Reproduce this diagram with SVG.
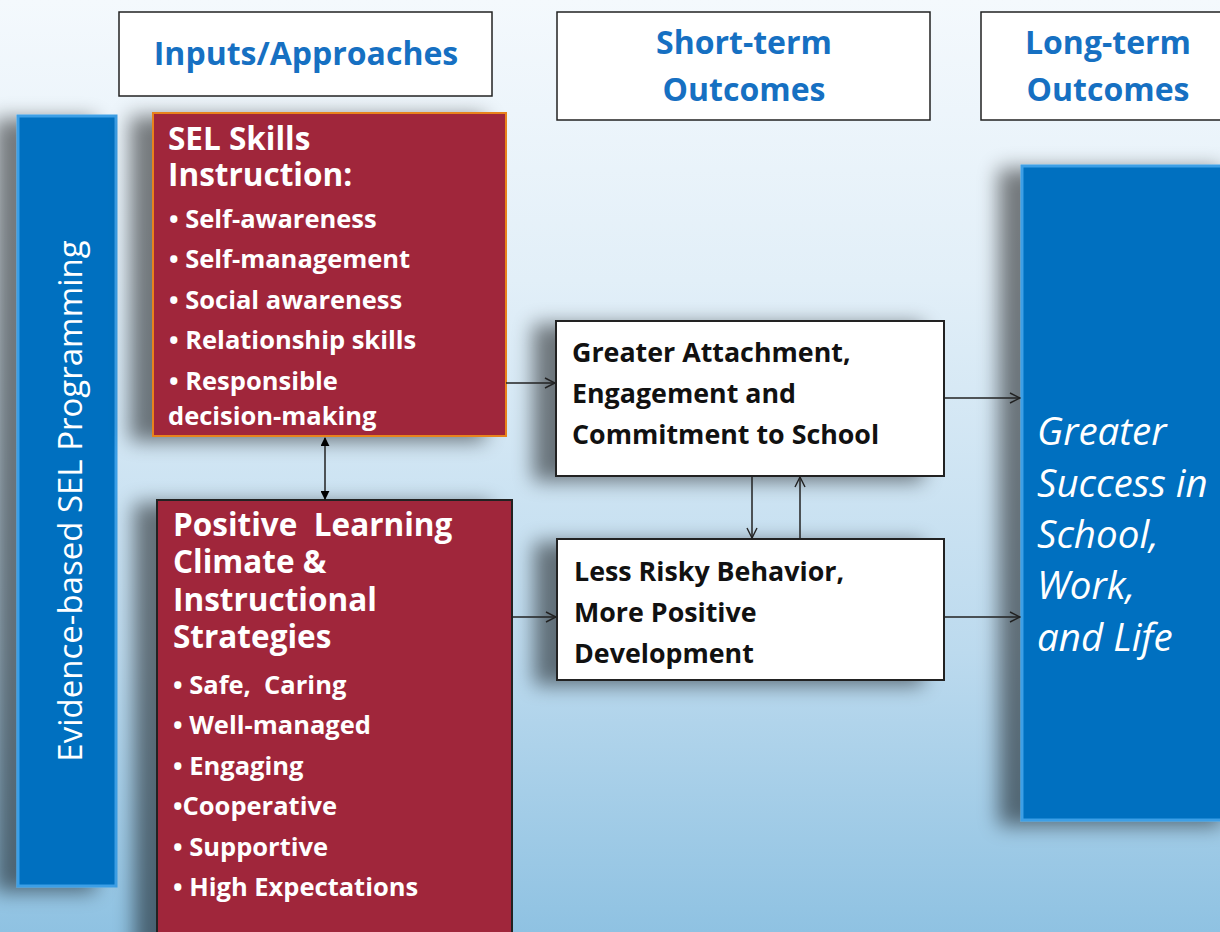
<svg xmlns="http://www.w3.org/2000/svg" width="1220" height="932" viewBox="0 0 1220 932">
<defs>
<linearGradient id="bg" x1="0" y1="0" x2="0" y2="1">
<stop offset="0" stop-color="#f4f9fd"/>
<stop offset="0.3" stop-color="#e2eff8"/>
<stop offset="0.7" stop-color="#bcdaee"/>
<stop offset="1" stop-color="#8fc2e2"/>
</linearGradient>
<filter id="sh" x="-30%" y="-30%" width="160%" height="160%">
<feGaussianBlur in="SourceAlpha" stdDeviation="10"/>
<feOffset dx="-22" dy="4" result="b"/>
<feComponentTransfer><feFuncA type="linear" slope="0.5"/></feComponentTransfer>
<feMerge><feMergeNode/><feMergeNode in="SourceGraphic"/></feMerge>
</filter>
<marker id="open" viewBox="0 0 12 12" refX="11" refY="6" markerWidth="12" markerHeight="12" markerUnits="userSpaceOnUse" orient="auto">
<path d="M1,1 L11,6 L1,11" fill="none" stroke="#222" stroke-width="1.4"/>
</marker>
<marker id="fill" viewBox="0 0 10 10" refX="9" refY="5" markerWidth="9" markerHeight="9" markerUnits="userSpaceOnUse" orient="auto-start-reverse">
<path d="M0,0 L10,5 L0,10 Z" fill="#000"/>
</marker>
</defs>
<style>
.hdr{fill:#fff;stroke:#222;stroke-width:1.5}
.hdrt{font-family:"Open Sans","Liberation Sans",sans-serif;font-weight:bold;font-size:32px;fill:#1670c2;text-anchor:middle}
.red{fill:#a0263a}
.wt{font-family:"Open Sans","Liberation Sans",sans-serif;font-weight:bold;fill:#fff}
.ttl{font-size:31.5px}
.bul{font-size:25.5px}
.box{fill:#fff;stroke:#222;stroke-width:2}
.bt{font-family:"Open Sans","Liberation Sans",sans-serif;font-weight:bold;font-size:26.8px;fill:#111}
.blue{fill:#0070c0;stroke:#3e9fe6;stroke-width:3}
.con{stroke:#222;stroke-width:1.5;fill:none}
</style>
<rect width="1220" height="932" fill="url(#bg)"/>

<g id="hdr-inputs">
<rect class="hdr" x="119" y="12" width="373" height="84"/>
<text class="hdrt" x="306" y="65">Inputs/Approaches</text>
</g>
<g id="hdr-short">
<rect class="hdr" x="557" y="12" width="373" height="108"/>
<text class="hdrt" x="744" y="54">Short-term</text>
<text class="hdrt" x="744" y="101">Outcomes</text>
</g>
<g id="hdr-long">
<rect class="hdr" x="981" y="12" width="250" height="108"/>
<text class="hdrt" x="1108" y="54">Long-term</text>
<text class="hdrt" x="1108" y="101">Outcomes</text>
</g>

<g id="evidence-bar">
<rect class="blue" x="18" y="116" width="98" height="770" filter="url(#sh)"/>
<text transform="translate(82,501) rotate(-90)" text-anchor="middle" font-family="'Open Sans','Liberation Sans',sans-serif" font-size="33" fill="#fff">Evidence-based SEL Programming</text>
</g>

<g id="sel-skills">
<rect class="red" x="153" y="113" width="353" height="323" stroke="#e8821e" stroke-width="2" filter="url(#sh)"/>
<text class="wt ttl" x="168" y="150">SEL Skills</text>
<text class="wt ttl" x="168" y="186">Instruction:</text>
<text class="wt bul" x="169" y="228">• Self-awareness</text>
<text class="wt bul" x="169" y="268">• Self-management</text>
<text class="wt bul" x="169" y="309">• Social awareness</text>
<text class="wt bul" x="169" y="349">• Relationship skills</text>
<text class="wt bul" x="169" y="390">• Responsible</text>
<text class="wt bul" x="168" y="425">decision-making</text>
</g>

<g id="positive-climate">
<rect class="red" x="157" y="500" width="355" height="450" stroke="#222" stroke-width="2" filter="url(#sh)"/>
<text class="wt ttl" x="173" y="536">Positive&#160; Learning</text>
<text class="wt ttl" x="173" y="573">Climate &amp;</text>
<text class="wt ttl" x="173" y="611">Instructional</text>
<text class="wt ttl" x="173" y="648">Strategies</text>
<text class="wt bul" x="173" y="694">• Safe,&#160; Caring</text>
<text class="wt bul" x="173" y="734">• Well-managed</text>
<text class="wt bul" x="173" y="775">• Engaging</text>
<text class="wt bul" x="173" y="815">•Cooperative</text>
<text class="wt bul" x="173" y="856">• Supportive</text>
<text class="wt bul" x="173" y="896">• High Expectations</text>
</g>

<g id="attachment">
<rect class="box" x="556" y="321" width="388" height="155" filter="url(#sh)"/>
<text class="bt" x="572" y="362">Greater Attachment,</text>
<text class="bt" x="572" y="403">Engagement and</text>
<text class="bt" x="572" y="444">Commitment to School</text>
</g>

<g id="less-risky">
<rect class="box" x="557" y="539" width="387" height="141" filter="url(#sh)"/>
<text class="bt" x="574" y="581">Less Risky Behavior,</text>
<text class="bt" x="574" y="622">More Positive</text>
<text class="bt" x="574" y="663">Development</text>
</g>

<g id="success">
<rect class="blue" x="1022" y="166" width="220" height="654" filter="url(#sh)"/>
<g font-family="'Open Sans','Liberation Sans',sans-serif" font-style="italic" font-size="38.5" fill="#fff">
<text x="1037" y="445">Greater</text>
<text x="1037" y="497">Success in</text>
<text x="1037" y="548">School,</text>
<text x="1037" y="599">Work,</text>
<text x="1037" y="651">and Life</text>
</g>
</g>

<g id="connectors">
<line class="con" x1="506" y1="383" x2="555" y2="383" marker-end="url(#open)"/>
<line class="con" x1="512" y1="617" x2="556" y2="617" marker-end="url(#open)"/>
<line class="con" x1="325" y1="438" x2="325" y2="499" marker-start="url(#fill)" marker-end="url(#fill)"/>
<line class="con" x1="752" y1="476" x2="752" y2="538" marker-end="url(#open)"/>
<line class="con" x1="800" y1="539" x2="800" y2="477" marker-end="url(#open)"/>
<line class="con" x1="944" y1="398" x2="1020" y2="398" marker-end="url(#open)"/>
<line class="con" x1="944" y1="617" x2="1020" y2="617" marker-end="url(#open)"/>
</g>
</svg>
